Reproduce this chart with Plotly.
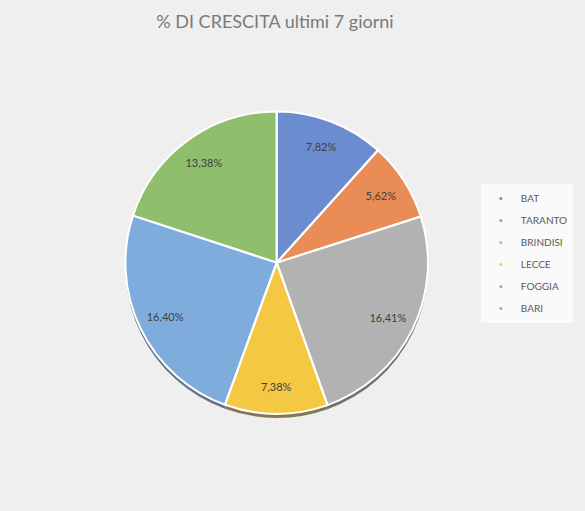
import plotly.graph_objects as go

provinces = ["BAT", "TARANTO", "BRINDISI", "LECCE", "FOGGIA", "BARI"]
growth = [7.82, 5.62, 16.41, 7.38, 16.40, 13.38]
colors = ["#6b8dd0", "#ea8c56", "#b2b2b2", "#f5c844", "#7eaddd", "#8fbf6c"]
shadow_colors = ["#3f4a60", "#5a4a3a", "#505050", "#6a5a2c", "#44546a", "#4c5a3c"]

labels = [f"{v:.2f}%".replace(".", ",") for v in growth]

pie_x = [0.214, 0.732]
pie_y = [0.19, 0.782]
common = dict(labels=provinces, values=growth, sort=False,
              direction="clockwise", rotation=0, showlegend=False)

fig = go.Figure()
# soft dark shadow under the pie (Excel style)
fig.add_trace(go.Pie(
    **common, textinfo="none", hoverinfo="skip", opacity=0.8,
    marker=dict(colors=shadow_colors, line=dict(width=0)),
    domain=dict(x=pie_x, y=[pie_y[0] - 0.008, pie_y[1] - 0.008]),
))
# filled pie
fig.add_trace(go.Pie(
    **common, textinfo="none", hoverinfo="skip",
    marker=dict(colors=colors, line=dict(width=0)),
    domain=dict(x=pie_x, y=pie_y),
))
# ring carrying the labels, so they sit near the outer edge like Excel
fig.add_trace(go.Pie(
    **common, hole=0.64, text=labels,
    texttemplate="%{text}", textposition="inside",
    insidetextorientation="horizontal",
    textfont=dict(family="Lato", size=11, color="#404040"),
    marker=dict(colors=colors, line=dict(width=0)),
    domain=dict(x=pie_x, y=pie_y), hoverinfo="label+text",
))
# white slice borders on top
fig.add_trace(go.Pie(
    **common, textinfo="none", hoverinfo="skip",
    marker=dict(colors=["rgba(0,0,0,0)"] * len(growth),
                line=dict(color="white", width=2)),
    domain=dict(x=pie_x, y=pie_y),
))

# small dot markers for the legend, like the original
for name, c in zip(provinces, colors):
    fig.add_trace(go.Scatter(
        x=[None], y=[None], mode="markers", name=name, legendgroup=name,
        marker=dict(size=3, color=c),
    ))

fig.update_layout(
    width=585, height=511,
    margin=dict(l=0, r=0, t=0, b=0),
    paper_bgcolor="#efefef", plot_bgcolor="#efefef",
    title=dict(text="% DI CRESCITA ultimi 7 giorni", x=0.47, xanchor="center",
               y=0.957, yanchor="middle",
               font=dict(family="Lato", size=18, color="#7a7a7a")),
    xaxis=dict(visible=False), yaxis=dict(visible=False),
    legend=dict(x=0.822, y=0.64, xanchor="left", yanchor="top",
                bgcolor="#fafafa", font=dict(family="Lato", size=10, color="#595959"),
                itemwidth=30, tracegroupgap=3),
)

fig.write_html("out.html", config={"displayModeBar": False},
               post_script="document.body.style.margin='0';")
